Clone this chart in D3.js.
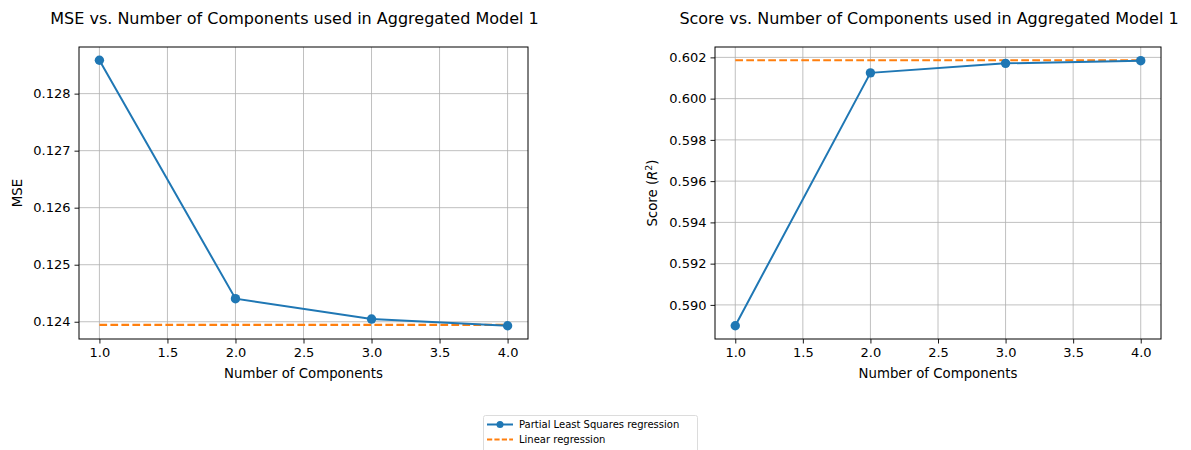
<!DOCTYPE html>
<html><head><meta charset="utf-8">
<script src="https://cdn.jsdelivr.net/npm/d3@7"></script>
<style>body{margin:0;background:#fff}svg text{font-family:"DejaVu Sans",sans-serif;fill:#000}</style>
</head><body><svg id="c" width="1191" height="450"></svg>
<script>
const components = [1, 2, 3, 4];
const msePLS = [0.128585, 0.124404, 0.124047, 0.12393];
const mseLinear = 0.123945;
const scorePLS = [0.58899, 0.60125, 0.60171, 0.60184];
const scoreLinear = 0.60186;
const xTicks = [1.0, 1.5, 2.0, 2.5, 3.0, 3.5, 4.0];
const mseTicks = [0.124, 0.125, 0.126, 0.127, 0.128];
const scoreTicks = [0.590, 0.592, 0.594, 0.596, 0.598, 0.600, 0.602];
const titles = ["MSE vs. Number of Components used in Aggregated Model 1", "Score vs. Number of Components used in Aggregated Model 1"];
const legendLabels = ["Partial Least Squares regression", "Linear regression"];

const svg = d3.select("#c");
const BLUE = "#1f77b4", ORANGE = "#ff7f0e";

function pad(ext){const r=ext[1]-ext[0];return [ext[0]-0.05*r, ext[1]+0.05*r];}

function panel(o){
  const x = d3.scaleLinear().domain(pad(d3.extent(components))).range([o.left, o.right]);
  const all = o.vals.concat([o.lin]);
  const y = d3.scaleLinear().domain(pad(d3.extent(all))).range([o.bottom, o.top]);
  const g = svg.append("g");
  g.selectAll(".gx").data(xTicks).join("line").attr("x1",d=>x(d)).attr("x2",d=>x(d))
    .attr("y1",o.top).attr("y2",o.bottom).attr("stroke","#b0b0b0").attr("stroke-width",0.8);
  g.selectAll(".gy").data(o.ticks).join("line").attr("y1",d=>y(d)).attr("y2",d=>y(d))
    .attr("x1",o.left).attr("x2",o.right).attr("stroke","#b0b0b0").attr("stroke-width",0.8);
  const ax = g.append("g").attr("transform",`translate(0,${o.bottom})`)
    .call(d3.axisBottom(x).tickValues(xTicks).tickFormat(d3.format(".1f")).tickSize(4.5).tickPadding(4));
  const ay = g.append("g").attr("transform",`translate(${o.left},0)`)
    .call(d3.axisLeft(y).tickValues(o.ticks).tickFormat(d3.format(".3f")).tickSize(4.5).tickPadding(4));
  [ax,ay].forEach(a=>{a.select(".domain").remove();a.selectAll("text").attr("font-size","13px").attr("font-family","DejaVu Sans").attr("fill","#000");a.selectAll("line").attr("stroke","#000").attr("stroke-width",0.9);});
  g.append("line").attr("x1",x(components[0])).attr("x2",x(components[components.length-1]))
    .attr("y1",y(o.lin)).attr("y2",y(o.lin)).attr("stroke",ORANGE).attr("stroke-width",2.1).attr("stroke-dasharray","7.7,3.3");
  g.append("path").datum(o.vals).attr("fill","none").attr("stroke",BLUE).attr("stroke-width",2)
    .attr("d",d3.line().x((d,i)=>x(components[i])).y(d=>y(d)));
  g.selectAll(".pt").data(o.vals).join("circle").attr("cx",(d,i)=>x(components[i])).attr("cy",d=>y(d))
    .attr("r",4.7).attr("fill",BLUE);
  g.append("rect").attr("x",o.left).attr("y",o.top).attr("width",o.right-o.left).attr("height",o.bottom-o.top)
    .attr("fill","none").attr("stroke","#000").attr("stroke-width",1);
  g.append("text").attr("x",(o.left+o.right)/2-9).attr("y",23.5).attr("text-anchor","middle").attr("font-size","16px").text(o.title);
  g.append("text").attr("x",(o.left+o.right)/2).attr("y",378).attr("text-anchor","middle").attr("font-size","13.3px").text("Number of Components");
  const yl = g.append("text").attr("transform",`translate(${o.ylx},${(o.top+o.bottom)/2}) rotate(-90)`).attr("text-anchor","middle").attr("font-size","13.3px");
  o.ylab(yl);
}

panel({left:79,right:528,top:47,bottom:339,vals:msePLS,lin:mseLinear,ticks:mseTicks,title:titles[0],ylx:21.5,
  ylab:t=>t.text("MSE")});
panel({left:715,right:1161,top:47,bottom:339,vals:scorePLS,lin:scoreLinear,ticks:scoreTicks,title:titles[1],ylx:656.5,
  ylab:t=>{t.append("tspan").text("Score (");t.append("tspan").attr("font-style","italic").text("R");
    t.append("tspan").attr("font-size","9.5px").attr("dy","-5").text("2");t.append("tspan").attr("dy","5").text(")");}});

const lg = svg.append("g");
lg.append("rect").attr("x",483.5).attr("y",415.5).attr("width",214).attr("height",40).attr("rx",2)
  .attr("fill","#fff").attr("stroke","#dcdcdc").attr("stroke-width",1);
const ly=[424.5,439.5];
lg.append("line").attr("x1",487).attr("x2",513).attr("y1",ly[0]).attr("y2",ly[0]).attr("stroke",BLUE).attr("stroke-width",2);
lg.append("circle").attr("cx",500).attr("cy",ly[0]).attr("r",3.5).attr("fill",BLUE);
lg.append("line").attr("x1",487).attr("x2",513).attr("y1",ly[1]).attr("y2",ly[1]).attr("stroke",ORANGE).attr("stroke-width",2).attr("stroke-dasharray","5.2,2.2");
legendLabels.forEach((l,i)=>lg.append("text").attr("x",519).attr("y",ly[i]+3.6).attr("font-size","10px").text(l));
</script></body></html>
